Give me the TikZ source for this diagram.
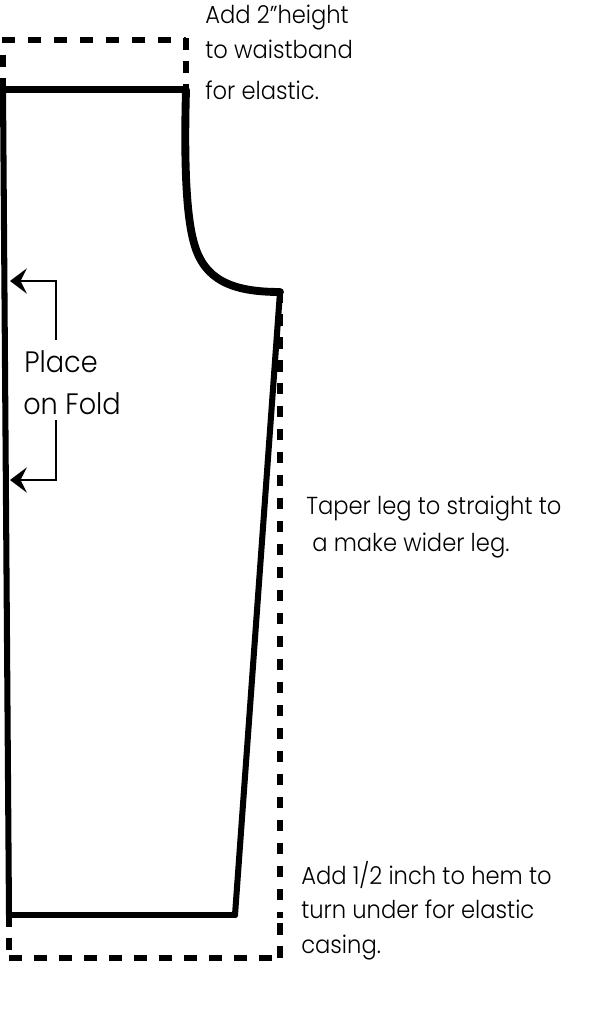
\documentclass[tikz,border=0pt]{standalone}
\usepackage{fontspec}
\setmainfont[FakeStretch=0.92]{Poppins Light}
\usetikzlibrary{arrows.meta,positioning}
\tikzset{
  cutline/.style={line width=4.3pt,line cap=round,line join=round},
  allowance/.style={line width=4.6pt,dash pattern=on 9.2pt off 9.3pt},
  allowancev/.style={line width=4.6pt,dash pattern=on 8.2pt off 8.15pt},
  allowanceb/.style={line width=4.6pt,dash pattern=on 8.9pt off 8.9pt},
  foldarrow/.style={line width=2.1pt,-{Stealth[length=12pt,width=18pt,inset=4.5pt]}},
  bigtext/.style={anchor=base west,inner sep=0pt,font=\fontsize{21}{21}\selectfont},
  notetext/.style={anchor=base west,inner sep=0pt,font=\fontsize{17.5}{17.5}\selectfont}
}
\begin{document}
\begin{tikzpicture}[x=0.025cm,y=-0.025cm]
    \useasboundingbox (0,0) rectangle (607,1024);

    % outline
    \draw[cutline] (3,89.5) -- (9,915);
    \draw[cutline] (3,89.5) -- (186,89.5);
    \draw[line width=5.6pt,line cap=round] (186,90) .. controls (184,160) and (186,215) .. (194,243)
        .. controls (204,280) and (232,292) .. (280,292);
    \draw[cutline] (280,292) -- (235,915);
    \draw[cutline] (235,915) -- (9,915);

    % added height and width
    \draw[allowance] (2,40) -- (186,40);
    \draw[allowancev] (2.5,55) -- (2.5,89);
    \draw[allowancev] (186,38) -- (186,89);
    \draw[allowancev] (280,291) -- (280,918);
    \draw[allowancev] (280,923) -- (280,958);
    \draw[allowanceb] (9,958) -- (275,958);
    \draw[allowancev] (9,915) -- (9,958);

    % fold
    \coordinate (upperstem) at (56,340);
    \coordinate (uppercorner) at (56,281);
    \coordinate (uppertip) at (10,281);
    \coordinate (lowerstem) at (56,420);
    \coordinate (lowercorner) at (56,480);
    \coordinate (lowertip) at (10,480);
    \draw[foldarrow] (upperstem) -- (uppercorner) -- (uppertip);
    \draw[foldarrow] (lowerstem) -- (lowercorner) -- (lowertip);

    \node[bigtext] (place) at (24,372) {Place};
    \node[bigtext] (fold) at (23,414) {on Fold};

    \node[notetext] (waist1) at (205,24) {Add 2”height};
    \node[notetext] (waist2) at (205,59) {to waistband};
    \node[notetext] (waist3) at (205,100) {for elastic.};

    \node[notetext] (leg1) at (306,514) {Taper leg to straight to};
    \node[notetext] (leg2) at (312,551) {a make wider leg.};

    \node[notetext] (hem1) at (301,884) {Add 1/2 inch to hem to};
    \node[notetext] (hem2) at (301,918) {turn under for elastic};
    \node[notetext] (hem3) at (301,953) {casing.};

\end{tikzpicture}
\end{document}
